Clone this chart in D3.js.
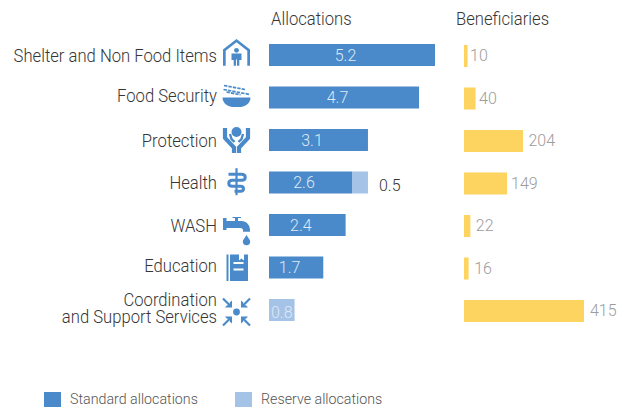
<!DOCTYPE html>
<html><head><meta charset="utf-8">
<script src="https://cdn.jsdelivr.net/npm/d3@7"></script>
<style>html,body{margin:0;padding:0;background:#fff}svg{display:block}text{font-family:Roboto,sans-serif;font-weight:300}</style>
</head><body><svg id="c" width="629" height="407"></svg>
<script>
const categories=["Shelter and Non Food Items","Food Security","Protection","Health","WASH","Education","Coordination\nand Support Services"];
const standard=[5.2,4.7,3.1,2.6,2.4,1.7,0];
const reserve=[0,0,0,0.5,0,0,0.8];
const beneficiaries=[10,40,204,149,22,16,415];
const icons=["shelter","food","protection","health","wash","education","coordination"];
const headers=["Allocations","Beneficiaries"];
const legendLabels=["Standard allocations","Reserve allocations"];
const BLUE="#4a8aca",LIGHT="#a5c2e7",YEL="#fcd45f",DARK="#363636",GREY="#9c9c9c";
const K=0.925; // the reference type is slightly condensed

const svg=d3.select("#c");
const y=d3.scalePoint().domain(categories).range([55,310]);
const xA=d3.scaleLinear().domain([0,5.2]).range([269,435]);
const xB=d3.scaleLinear().domain([0,415]).range([464,584]);
const H=22;
const at=(x,yy)=>`translate(${x},${yy}) scale(${K},1)`;

svg.selectAll(".h").data(headers).join("text").attr("class","h")
  .attr("transform",(d,i)=>at([271,456][i],25)).attr("font-size",18).attr("fill",DARK).text(d=>d);

// category labels
const labelShift=[7,4.5,7,6.5,7,4.5,4];
categories.forEach((d,i)=>{
  const ls=d.split("\n");
  ls.forEach((l,j)=>svg.append("text").attr("class","cat").attr("text-anchor","end")
    .attr("font-size",18).attr("fill",DARK)
    .attr("transform",at(217,y(d)+labelShift[i]-(ls.length-1-j)*16.7+(ls.length>1?8.7:0)))
    .text(l));
});

// allocations
const rows=categories.map((c,i)=>({c,s:standard[i],r:reserve[i],b:beneficiaries[i],icon:icons[i],i}));
svg.selectAll(".s").data(rows.filter(d=>d.s>0)).join("rect").attr("class","s")
  .attr("x",xA(0)).attr("y",d=>y(d.c)-H/2).attr("width",d=>xA(d.s)-xA(0)).attr("height",H).attr("fill",BLUE);
svg.selectAll(".r").data(rows.filter(d=>d.r>0)).join("rect").attr("class","r")
  .attr("x",d=>xA(d.s)).attr("y",d=>y(d.c)-H/2).attr("width",d=>xA(d.r)-xA(0)).attr("height",H).attr("fill",LIGHT);
svg.selectAll(".sl").data(rows).join("text").attr("class","sl")
  .attr("text-anchor","middle").attr("font-size",17.3).attr("fill","#dfe9f5")
  .attr("transform",d=>at(d.s>0?(xA(d.s)+xA(0))/2-6.5:(xA(d.r)+xA(0))/2,y(d.c)+(d.s>0?5.5:8)))
  .text(d=>d.s>0?d.s:d.r);
svg.selectAll(".rl").data(rows.filter(d=>d.s>0&&d.r>0)).join("text").attr("class","rl")
  .attr("transform",d=>at(xA(d.s+d.r)+11,y(d.c)+8)).attr("font-size",17.3).attr("fill",DARK).text(d=>d.r);

// beneficiaries
const labelGap=[2.5,3.5,5.5,4,5.5,5.5,6];
svg.selectAll(".b").data(rows).join("rect").attr("class","b")
  .attr("x",xB(0)).attr("y",d=>y(d.c)-H/2+1).attr("width",d=>Math.max(xB(d.b)-xB(0),3.6)).attr("height",H).attr("fill",YEL);
svg.selectAll(".bl").data(rows).join("text").attr("class","bl")
  .attr("transform",d=>at(Math.max(xB(d.b),467.6)+labelGap[d.i],y(d.c)+6.3)).attr("font-size",17.3).attr("fill",GREY).text(d=>d.b);

// icons
const stroke=(g,d,w)=>g.append("path").attr("d",d).attr("fill","none").attr("stroke",BLUE).attr("stroke-width",w);
const draw={
 shelter(g){
  g.append("path").attr("d","M-13.5,13.2V-3L0,-13.5L13.5,-3V13.2H10.8V-1.8L0,-10.2L-10.8,-1.8V13.2Z").attr("fill",BLUE);
  g.append("circle").attr("cy",-2.2).attr("r",2.4).attr("fill",BLUE);
  g.append("path").attr("d","M-5,1H5V7.5H2.8V13.2H0.5V7H-0.5V13.2H-2.8V7.5H-5Z").attr("fill",BLUE);
 },
 food(g){
  g.append("path").attr("d","M-14,1.5H14C14,7.5 8,11 4,11H-4C-8,11 -14,7.5 -14,1.5Z").attr("fill",BLUE);
  [[-12.5,-10.5,8.5,-6.5],[-13,-6.5,13.5,-1.5],[-10,-4,4,-1.2]].forEach(p=>
   g.append("line").attr("x1",p[0]).attr("y1",p[1]).attr("x2",p[2]).attr("y2",p[3])
    .attr("stroke",BLUE).attr("stroke-width",1.7).attr("stroke-dasharray","3.4 1.1"));
 },
 protection(g){
  g.append("circle").attr("cy",-8).attr("r",5).attr("fill",BLUE);
  stroke(g,"M-11.5,-12V-2L-2.5,7.5V13",4.2);
  stroke(g,"M11.5,-12V-2L2.5,7.5V13",4.2);
  stroke(g,"M-6.5,-6L-5,-1L-2,2",2.4);
  stroke(g,"M6.5,-6L5,-1L2,2",2.4);
 },
 health(g){
  stroke(g,"M0,-13.5V13.5",2.2);
  stroke(g,"M-8,-7.5H5C10,-7.5 10,-1.5 5,-1.5H-4C-9,-1.5 -9,4.5 -4,4.5H4C8,4.5 8,9.5 4,9.5H-2",3);
 },
 wash(g){
  g.append("path").attr("d","M-13.5,-12H-10V-9H-1.5V-12H-4V-13H4.5V-12H1.5V-9H5C10,-9 13.5,-5 13.5,0V1.7H6.5V0C6.5,-1 5.5,-2 4,-2H-10V0H-13.5Z").attr("fill",BLUE);
  g.append("path").attr("d","M10,5C12,8.5 13.7,10 13.7,11.5A3.7,3.7 0 0 1 6.3,11.5C6.3,10 8,8.5 10,5Z").attr("fill",BLUE);
 },
 education(g){
  g.append("path").attr("d","M-10,-13H-8V13.5H-10Z").attr("fill",BLUE);
  g.append("path").attr("d","M-6.5,-13H2.5V-7L5,-9L7.5,-7V-13H11.5V13.5H-6.5Z").attr("fill",BLUE);
  g.append("path").attr("d","M-3,-5.5H7V-3.5H-3Z M-3,1H7V3H-3Z").attr("fill","#fff");
 },
 coordination(g){
  g.append("circle").attr("r",3.4).attr("fill",BLUE);
  [[-1,-1],[1,-1],[-1,1],[1,1]].forEach(([a,b])=>{
   g.append("path").attr("d",`M${a*13.5},${b*13.5}L${a*6},${b*6}`).attr("stroke",BLUE).attr("stroke-width",2.2);
   g.append("path").attr("d",`M${a*4.5},${b*4.5}H${a*11.5}L${a*9.5},${b*6.8}H${a*6.8}V${b*9.5}L${a*4.5},${b*11.5}Z`).attr("fill",BLUE);
  });
 }
};
const iconShift=[-2.5,-1.5,0,-0.8,5,0,2];
rows.forEach((d,i)=>{
  const g=svg.append("g").attr("transform",`translate(236.5,${y(d.c)+iconShift[i]})`);
  draw[d.icon](g);
});

// legend
const lx=[44,235];
svg.selectAll(".ls").data(legendLabels).join("rect").attr("class","ls")
  .attr("x",(d,i)=>lx[i]).attr("y",392).attr("width",17).attr("height",15).attr("fill",(d,i)=>[BLUE,LIGHT][i]);
svg.selectAll(".lt").data(legendLabels).join("text").attr("class","lt")
  .attr("transform",(d,i)=>at(lx[i]+26,404)).attr("font-size",15.4).attr("fill","#555").text(d=>d);
</script></body></html>
